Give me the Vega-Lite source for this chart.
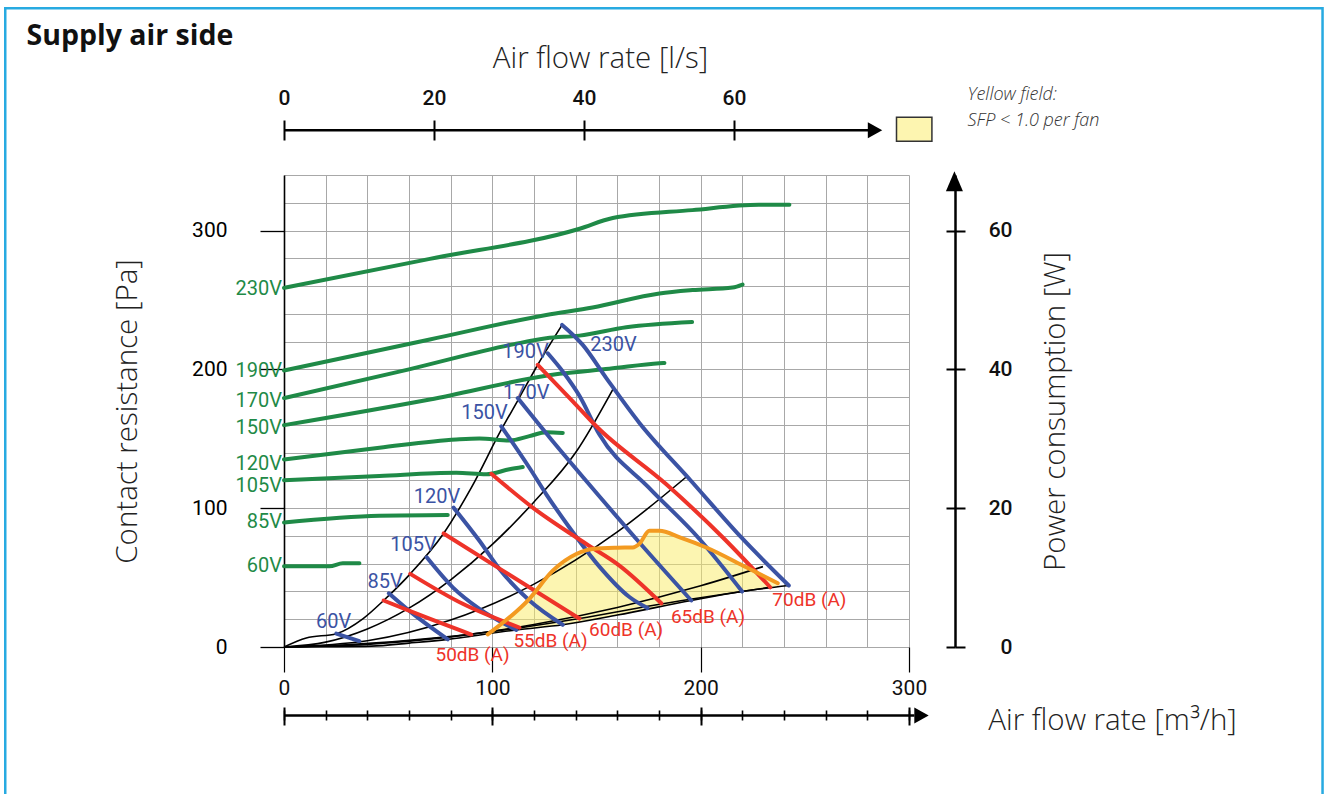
{
"$schema":"https://vega.github.io/schema/vega-lite/v6.json",
"width":625,"height":472,
"autosize":{"type":"none"},
"padding":{"left":284,"top":175,"right":416,"bottom":147},
"background":"white",
"config":{"view":{"stroke":null},"font":"Roboto","axis":{"labelFont":"Roboto","titleFont":"Open Sans","labelColor":"#111","titleColor":"#222","tickColor":"#000","domainColor":"#000","labelFlush":false,"labelOverlap":false,"labelBound":false}},
"datasets":{
"lines":[
{"k":"g","n":"g230","x":0,"y":258.7},{"k":"g","n":"g230","x":70,"y":279.6},{"k":"g","n":"g230","x":141.9,"y":301.3},{"k":"g","n":"g230","x":157.8,"y":309},{"k":"g","n":"g230","x":196,"y":314.7},{"k":"g","n":"g230","x":228,"y":318.5},{"k":"g","n":"g230","x":242.6,"y":318.5},
{"k":"g","n":"g190","x":0,"y":199.2},{"k":"g","n":"g190","x":70,"y":221.5},{"k":"g","n":"g190","x":125.9,"y":239.2},{"k":"g","n":"g190","x":148.1,"y":244.6},{"k":"g","n":"g190","x":180.2,"y":254.7},{"k":"g","n":"g190","x":196.1,"y":257.1},{"k":"g","n":"g190","x":215.3,"y":259},{"k":"g","n":"g190","x":220.1,"y":261.1},
{"k":"g","n":"g170","x":0,"y":179.3},{"k":"g","n":"g170","x":60,"y":200},{"k":"g","n":"g170","x":110,"y":218},{"k":"g","n":"g170","x":125.9,"y":222.4},{"k":"g","n":"g170","x":141.8,"y":224.3},{"k":"g","n":"g170","x":164.3,"y":230.3},{"k":"g","n":"g170","x":195.9,"y":234.1},
{"k":"g","n":"g150","x":0,"y":159.8},{"k":"g","n":"g150","x":70,"y":178.3},{"k":"g","n":"g150","x":132.2,"y":196.8},{"k":"g","n":"g150","x":156.2,"y":200.4},{"k":"g","n":"g150","x":180.2,"y":204.4},{"k":"g","n":"g150","x":182.6,"y":204.6},
{"k":"g","n":"g120","x":0,"y":135.1},{"k":"g","n":"g120","x":45.8,"y":143.5},{"k":"g","n":"g120","x":82.7,"y":149.5},{"k":"g","n":"g120","x":93.8,"y":150.2},{"k":"g","n":"g120","x":108.2,"y":148.8},{"k":"g","n":"g120","x":117.8,"y":151.9},{"k":"g","n":"g120","x":125.9,"y":154.7},{"k":"g","n":"g120","x":133.8,"y":154.2},
{"k":"g","n":"g105","x":0,"y":120.1},{"k":"g","n":"g105","x":45.8,"y":123.2},{"k":"g","n":"g105","x":82.7,"y":125.5},{"k":"g","n":"g105","x":97.1,"y":124.4},{"k":"g","n":"g105","x":108.2,"y":128},{"k":"g","n":"g105","x":114.6,"y":129.6},
{"k":"g","n":"g85","x":0,"y":89.7},{"k":"g","n":"g85","x":45.8,"y":94.5},{"k":"g","n":"g85","x":78.6,"y":95},
{"k":"g","n":"g60","x":0,"y":58.1},{"k":"g","n":"g60","x":21.8,"y":58.1},{"k":"g","n":"g60","x":28.2,"y":60.3},{"k":"g","n":"g60","x":36.2,"y":60.3},
{"k":"b","n":"b60","x":25.1,"y":9.6},{"k":"b","n":"b60","x":36.2,"y":4.3},
{"k":"b","n":"b85","x":50.3,"y":38.7},{"k":"b","n":"b85","x":61.8,"y":24},{"k":"b","n":"b85","x":78.6,"y":5.5},
{"k":"b","n":"b105","x":68.5,"y":64.6},{"k":"b","n":"b105","x":81,"y":43},{"k":"b","n":"b105","x":93.8,"y":27.5},{"k":"b","n":"b105","x":111.5,"y":12.3},
{"k":"b","n":"b120","x":81.4,"y":100.4},{"k":"b","n":"b120","x":93.8,"y":76.5},{"k":"b","n":"b120","x":103.4,"y":56.2},{"k":"b","n":"b120","x":117.8,"y":33.5},{"k":"b","n":"b120","x":133.8,"y":16},
{"k":"b","n":"b150","x":104.3,"y":159},{"k":"b","n":"b150","x":117.8,"y":129.1},{"k":"b","n":"b150","x":125.9,"y":110},{"k":"b","n":"b150","x":137,"y":86.1},{"k":"b","n":"b150","x":151.4,"y":57.9},{"k":"b","n":"b150","x":165.8,"y":36},{"k":"b","n":"b150","x":174.5,"y":28},
{"k":"b","n":"b170","x":112.2,"y":179.3},{"k":"b","n":"b170","x":128,"y":150},{"k":"b","n":"b170","x":145.1,"y":119.6},{"k":"b","n":"b170","x":169.1,"y":77.8},{"k":"b","n":"b170","x":195.5,"y":33.5},
{"k":"b","n":"b190","x":126.6,"y":211.6},{"k":"b","n":"b190","x":133.8,"y":198.5},{"k":"b","n":"b190","x":141.8,"y":181},{"k":"b","n":"b190","x":151.4,"y":153},{"k":"b","n":"b190","x":175,"y":115},{"k":"b","n":"b190","x":199.4,"y":77.8},{"k":"b","n":"b190","x":219.9,"y":40},
{"k":"b","n":"b230","x":133.5,"y":232},{"k":"b","n":"b230","x":143.4,"y":217.6},{"k":"b","n":"b230","x":154.7,"y":193.7},{"k":"b","n":"b230","x":170.6,"y":161.4},{"k":"b","n":"b230","x":195,"y":120.3},{"k":"b","n":"b230","x":220.2,"y":77.8},{"k":"b","n":"b230","x":242.3,"y":44.3},
{"k":"r","n":"r50","x":47.8,"y":33.5},{"k":"r","n":"r50","x":61.8,"y":25.1},{"k":"r","n":"r50","x":89.9,"y":9},
{"k":"r","n":"r55","x":60.6,"y":52.7},{"k":"r","n":"r55","x":85.8,"y":31.1},{"k":"r","n":"r55","x":113,"y":14},
{"k":"r","n":"r60","x":76.6,"y":81.8},{"k":"r","n":"r60","x":105,"y":55},{"k":"r","n":"r60","x":141.8,"y":20.5},
{"k":"r","n":"r65","x":99.5,"y":124.8},{"k":"r","n":"r65","x":119.4,"y":100.4},{"k":"r","n":"r65","x":145.1,"y":74.2},{"k":"r","n":"r65","x":161,"y":58.6},{"k":"r","n":"r65","x":181.1,"y":31.5},
{"k":"r","n":"r70","x":121.8,"y":203.3},{"k":"r","n":"r70","x":138.6,"y":177},{"k":"r","n":"r70","x":149.9,"y":159},{"k":"r","n":"r70","x":183.5,"y":117.2},{"k":"r","n":"r70","x":211.4,"y":77.8},{"k":"r","n":"r70","x":233.4,"y":43},
{"k":"k","n":"ka","x":0,"y":0},{"k":"k","n":"ka","x":10.7,"y":6.5},{"k":"k","n":"ka","x":25.1,"y":9.6},{"k":"k","n":"ka","x":38,"y":20.5},{"k":"k","n":"ka","x":47.8,"y":33.5},{"k":"k","n":"ka","x":60.6,"y":52.7},{"k":"k","n":"ka","x":76.6,"y":81.8},{"k":"k","n":"ka","x":90,"y":115},{"k":"k","n":"ka","x":104.3,"y":156.5},{"k":"k","n":"ka","x":112.2,"y":177.5},{"k":"k","n":"ka","x":121.8,"y":203.3},{"k":"k","n":"ka","x":133.5,"y":232},
{"k":"k","n":"kb","x":0,"y":0},{"k":"k","n":"kb","x":20,"y":3.5},{"k":"k","n":"kb","x":40,"y":13},{"k":"k","n":"kb","x":60,"y":28},{"k":"k","n":"kb","x":80,"y":48.4},{"k":"k","n":"kb","x":100,"y":73.9},{"k":"k","n":"kb","x":120,"y":104.5},{"k":"k","n":"kb","x":140,"y":140.1},{"k":"k","n":"kb","x":158,"y":186},
{"k":"k","n":"kc","x":0,"y":0},{"k":"k","n":"kc","x":40,"y":4.5},{"k":"k","n":"kc","x":80,"y":19.4},{"k":"k","n":"kc","x":120,"y":45.3},{"k":"k","n":"kc","x":160,"y":82.9},{"k":"k","n":"kc","x":193.5,"y":123},
{"k":"k","n":"kd","x":0,"y":0},{"k":"k","n":"kd","x":40,"y":1.9},{"k":"k","n":"kd","x":80,"y":7.3},{"k":"k","n":"kd","x":120,"y":16.2},{"k":"k","n":"kd","x":160,"y":28.5},{"k":"k","n":"kd","x":200,"y":44.1},{"k":"k","n":"kd","x":229.9,"y":57.9},
{"k":"k","n":"ke","x":0,"y":0},{"k":"k","n":"ke","x":20,"y":0.2},{"k":"k","n":"ke","x":42,"y":0.6},{"k":"k","n":"ke","x":60,"y":2.8},{"k":"k","n":"ke","x":78.6,"y":5.5},{"k":"k","n":"ke","x":89.9,"y":7.8},{"k":"k","n":"ke","x":111.5,"y":12.3},{"k":"k","n":"ke","x":133.8,"y":16},{"k":"k","n":"ke","x":160,"y":23},{"k":"k","n":"ke","x":195.5,"y":33.5},{"k":"k","n":"ke","x":219.9,"y":40},{"k":"k","n":"ke","x":242.3,"y":44.3},
{"k":"k","n":"kf","x":0,"y":0},{"k":"k","n":"kf","x":30,"y":1.6},{"k":"k","n":"kf","x":60,"y":4.8},{"k":"k","n":"kf","x":90,"y":9.3},{"k":"k","n":"kf","x":113,"y":13.8},{"k":"k","n":"kf","x":141.8,"y":20.5},{"k":"k","n":"kf","x":181.1,"y":31},{"k":"k","n":"kf","x":233.4,"y":43}
],
"yellow":[
{"x":97.8,"y":9.1,"y2":9.1},{"x":117.8,"y":34.7,"y2":13.3},{"x":129,"y":55,"y2":15.2},{"x":140.3,"y":67,"y2":17.6},{"x":148.2,"y":70.6,"y2":19.7},{"x":160,"y":71.5,"y2":23},{"x":167.4,"y":71.7,"y2":25.2},{"x":170.6,"y":74.4,"y2":26.1},{"x":175.4,"y":83.7,"y2":27.5},{"x":180.2,"y":83.7,"y2":29},{"x":190,"y":79,"y2":31.9},{"x":202.7,"y":71.7,"y2":35.3},{"x":221.9,"y":57.4,"y2":40.4},{"x":237,"y":45.9,"y2":43.8}
],
"glabels":[
{"t":"230V","x":0,"y":257.7},{"t":"190V","x":0,"y":198.6},{"t":"170V","x":0,"y":177},{"t":"150V","x":0,"y":157.6},{"t":"120V","x":0,"y":131.6},{"t":"105V","x":0,"y":115.8},{"t":"85V","x":0,"y":89.8},{"t":"60V","x":0,"y":58.1}
],
"blabels":[
{"t":"60V","x":23.8,"y":18},{"t":"85V","x":48.5,"y":46.8},{"t":"105V","x":62.2,"y":73.3},{"t":"120V","x":73.4,"y":108.1},{"t":"150V","x":96.2,"y":168.2},{"t":"170V","x":116.3,"y":183},{"t":"190V","x":115.9,"y":212.5},{"t":"230V","x":158.2,"y":217.4}
],
"rlabels":[
{"t":"50dB (A)","x":90.5,"y":-5.5},{"t":"55dB (A)","x":127.9,"y":4.4},{"t":"60dB (A)","x":164.2,"y":12.3},{"t":"65dB (A)","x":203.5,"y":21.8},{"t":"70dB (A)","x":252.2,"y":33.6}
],
"rules":[{"x":0,"x2":282,"y":372.3},{"x":0,"x2":302.6,"y":-49.3}],
"heads":[{"x":283.7,"y":372.3,"d":"r"},{"x":306,"y":-49.3,"d":"r"},{"x":321.8,"y":334.8,"d":"u"}],
"legbox":[{"x":294,"x2":311,"y":364.3,"y2":381.6}],
"border":[{"x":-133.8,"x2":498.5,"y":460.2,"y2":-117.7}],
"legtext":[{"t":"Yellow field:","x":328.1,"y":397.3},{"t":"SFP < 1.0 per fan","x":328.1,"y":379.2}],
"title":[{"t":"Supply air side","x":-123.6,"y":433.5}]
},
"layer":[
{"data":{"name":"yellow"},
 "mark":{"type":"area","interpolate":"monotone","fill":"#f9eb64","fillOpacity":0.5},
 "encoding":{
  "x":{"field":"x","type":"quantitative","scale":{"domain":[0,300],"nice":false,"zero":false},
       "axis":{"orient":"bottom","grid":true,"values":[0,20,40,60,80,100,120,140,160,180,200,220,240,260,280,300],"gridColor":"#a8a8a8","gridWidth":1,"ticks":false,"labels":false,"domain":false,"title":null}},
  "y":{"field":"y","type":"quantitative","scale":{"domain":[0,340],"nice":false,"zero":false},
       "axis":{"orient":"left","grid":true,"values":[0,20,40,60,80,100,120,140,160,180,200,220,240,260,280,300,320,340],"gridColor":"#a8a8a8","gridWidth":1,"ticks":false,"labels":false,"domain":false,"title":null}},
  "y2":{"field":"y2"}}},
{"data":{"name":"lines"},"transform":[{"filter":"datum.k == 'k'"}],
 "mark":{"type":"line","interpolate":"monotone","color":"#000","strokeWidth":1.6},
 "encoding":{
  "x":{"field":"x","type":"quantitative","scale":{"domain":[0,300],"nice":false,"zero":false},
       "axis":{"orient":"bottom","values":[0,100,200,300],"tickSize":25,"tickWidth":1.2,"domain":false,"grid":false,"labelFontSize":21,"labelPadding":5,"title":null}},
  "y":{"field":"y","type":"quantitative","scale":{"domain":[0,340],"nice":false,"zero":false},
       "axis":{"orient":"left","values":[0,100,200,300],"tickSize":24,"tickWidth":1.3,"domain":true,"domainWidth":1.6,"grid":false,"labelFontSize":21,"labelFontWeight":"normal","labelColor":"#000","labelPadding":33,
               "title":"Contact resistance [Pa]","titleFontSize":29.5,"titleFontWeight":300,"titleAngle":270,"titleX":-157,"titleY":236,"titleAlign":"center","titleBaseline":"middle"}},
  "detail":{"field":"n"},"order":{"field":"x","type":"quantitative"}}},
{"data":{"name":"lines"},"transform":[{"filter":"datum.k == 'g'"}],
 "mark":{"type":"line","interpolate":"monotone","color":"#1f8a47","strokeWidth":4,"strokeCap":"round"},
 "encoding":{
  "x":{"field":"x","type":"quantitative","scale":{"domain":[0,300],"nice":false,"zero":false},
       "axis":{"orient":"bottom","offset":60,"values":[0,100,200,300],"tickSize":18,"tickWidth":2,"domain":false,"grid":false,"labels":false,"title":null}},
  "y":{"field":"y","type":"quantitative","scale":{"domain":[0,340],"nice":false,"zero":false},
       "axis":{"orient":"right","offset":37,"values":[0,100,200,300],"tickSize":9,"tickWidth":2,"domain":false,"grid":false,"labels":false,"title":null}},
  "detail":{"field":"n"},"order":{"field":"x","type":"quantitative"}}},
{"data":{"name":"lines"},"transform":[{"filter":"datum.k == 'b'"}],
 "mark":{"type":"line","interpolate":"monotone","color":"#3b53a4","strokeWidth":4,"strokeCap":"round"},
 "encoding":{
  "x":{"field":"x","type":"quantitative","scale":{"domain":[0,300],"nice":false,"zero":false},
       "axis":{"orient":"top","offset":35,"values":[0,72,144,216],"labelExpr":"round(datum.value/3.6)","tickSize":20,"tickWidth":2,"domain":false,"grid":false,"labelFontSize":21,"labelFontWeight":500,"labelPadding":12,
               "title":"Air flow rate [l/s]","titleFontSize":29.5,"titleFontWeight":300,"titleX":316,"titleY":-82,"titleAlign":"center","titleBaseline":"middle"}},
  "y":{"field":"y","type":"quantitative","scale":{"domain":[0,340],"nice":false,"zero":false},"axis":null},
  "detail":{"field":"n"},"order":{"field":"x","type":"quantitative"}}},
{"data":{"name":"lines"},"transform":[{"filter":"datum.k == 'r'"}],
 "mark":{"type":"line","interpolate":"monotone","color":"#ee3329","strokeWidth":4,"strokeCap":"round"},
 "encoding":{
  "x":{"field":"x","type":"quantitative","scale":{"domain":[0,300],"nice":false,"zero":false},"axis":null},
  "y":{"field":"y","type":"quantitative","scale":{"domain":[0,340],"nice":false,"zero":false},"axis":null},
  "detail":{"field":"n"},"order":{"field":"x","type":"quantitative"}}},
{"data":{"name":"yellow"},
 "mark":{"type":"line","interpolate":"monotone","color":"#f39a21","strokeWidth":4,"strokeCap":"round"},
 "encoding":{
  "x":{"field":"x","type":"quantitative","scale":{"domain":[0,300],"nice":false,"zero":false},
       "axis":{"orient":"bottom","offset":63,"values":[0,20,40,60,80,100,120,140,160,180,200,220,240,260,280,300],"tickSize":10,"tickWidth":1.6,"domain":false,"grid":false,"labels":false,
               "title":"Air flow rate [m³/h]","titleFontSize":29.5,"titleFontWeight":300,"titleX":828,"titleY":10,"titleAlign":"center","titleBaseline":"middle"}},
  "y":{"field":"y","type":"quantitative","scale":{"domain":[0,340],"nice":false,"zero":false},
       "axis":{"orient":"right","offset":46,"values":[0,100,200,300],"labelExpr":"datum.value/5","tickSize":10,"tickWidth":2,"domain":true,"domainWidth":2.5,"grid":false,"labelFontSize":21,"labelFontWeight":500,"labelAlign":"right","labelPadding":47,
               "title":"Power consumption [W]","titleFontSize":29.5,"titleFontWeight":300,"titleAngle":270,"titleX":100,"titleY":236,"titleAlign":"center","titleBaseline":"middle"}}}},
{"data":{"name":"glabels"},
 "mark":{"type":"text","align":"right","baseline":"middle","dx":-2,"fontSize":20,"fontWeight":"normal","color":"#1f8a47"},
 "encoding":{"x":{"field":"x","type":"quantitative","axis":null},"y":{"field":"y","type":"quantitative","axis":null},"text":{"field":"t"}}},
{"data":{"name":"blabels"},
 "mark":{"type":"text","align":"center","baseline":"middle","fontSize":20,"fontWeight":"normal","color":"#3b53a4"},
 "encoding":{"x":{"field":"x","type":"quantitative","axis":null},"y":{"field":"y","type":"quantitative","axis":null},"text":{"field":"t"}}},
{"data":{"name":"rlabels"},
 "mark":{"type":"text","align":"center","baseline":"middle","fontSize":19,"fontWeight":"normal","color":"#ee3329"},
 "encoding":{"x":{"field":"x","type":"quantitative","axis":null},"y":{"field":"y","type":"quantitative","axis":null},"text":{"field":"t"}}},
{"data":{"name":"rules"},
 "mark":{"type":"rule","color":"#000","strokeWidth":2.5},
 "encoding":{"x":{"field":"x","type":"quantitative","axis":null},"x2":{"field":"x2"},"y":{"field":"y","type":"quantitative","axis":null}}},
{"data":{"name":"heads"},"transform":[{"filter":"datum.d == 'r'"}],
 "mark":{"type":"point","shape":"M-0.9,-1L0.9,0L-0.9,1Z","size":256,"filled":true,"color":"#000","opacity":1},
 "encoding":{"x":{"field":"x","type":"quantitative","axis":null},"y":{"field":"y","type":"quantitative","axis":null}}},
{"data":{"name":"heads"},"transform":[{"filter":"datum.d == 'u'"}],
 "mark":{"type":"point","shape":"M-0.85,0.9L0,-1.1L0.85,0.9Z","size":400,"filled":true,"color":"#000","opacity":1},
 "encoding":{"x":{"field":"x","type":"quantitative","axis":null},"y":{"field":"y","type":"quantitative","axis":null}}},
{"data":{"name":"legbox"},
 "mark":{"type":"rect","fill":"#fdf5b0","stroke":"#333","strokeWidth":1.5},
 "encoding":{"x":{"field":"x","type":"quantitative","axis":null},"x2":{"field":"x2"},"y":{"field":"y","type":"quantitative","axis":null},"y2":{"field":"y2"}}},
{"data":{"name":"border"},
 "mark":{"type":"rect","fill":"transparent","stroke":"#27aae1","strokeWidth":2.5},
 "encoding":{"x":{"field":"x","type":"quantitative","axis":null},"x2":{"field":"x2"},"y":{"field":"y","type":"quantitative","axis":null},"y2":{"field":"y2"}}},
{"data":{"name":"legtext"},
 "mark":{"type":"text","align":"left","baseline":"middle","font":"Open Sans","fontStyle":"italic","fontWeight":300,"fontSize":18,"color":"#333"},
 "encoding":{"x":{"field":"x","type":"quantitative","axis":null},"y":{"field":"y","type":"quantitative","axis":null},"text":{"field":"t"}}},
{"data":{"name":"title"},
 "mark":{"type":"text","align":"left","baseline":"alphabetic","font":"Open Sans","fontWeight":"bold","fontSize":28.5,"color":"#111"},
 "encoding":{"x":{"field":"x","type":"quantitative","axis":null},"y":{"field":"y","type":"quantitative","axis":null},"text":{"field":"t"}}}
],
"resolve":{"axis":{"x":"independent","y":"independent"}}
}
